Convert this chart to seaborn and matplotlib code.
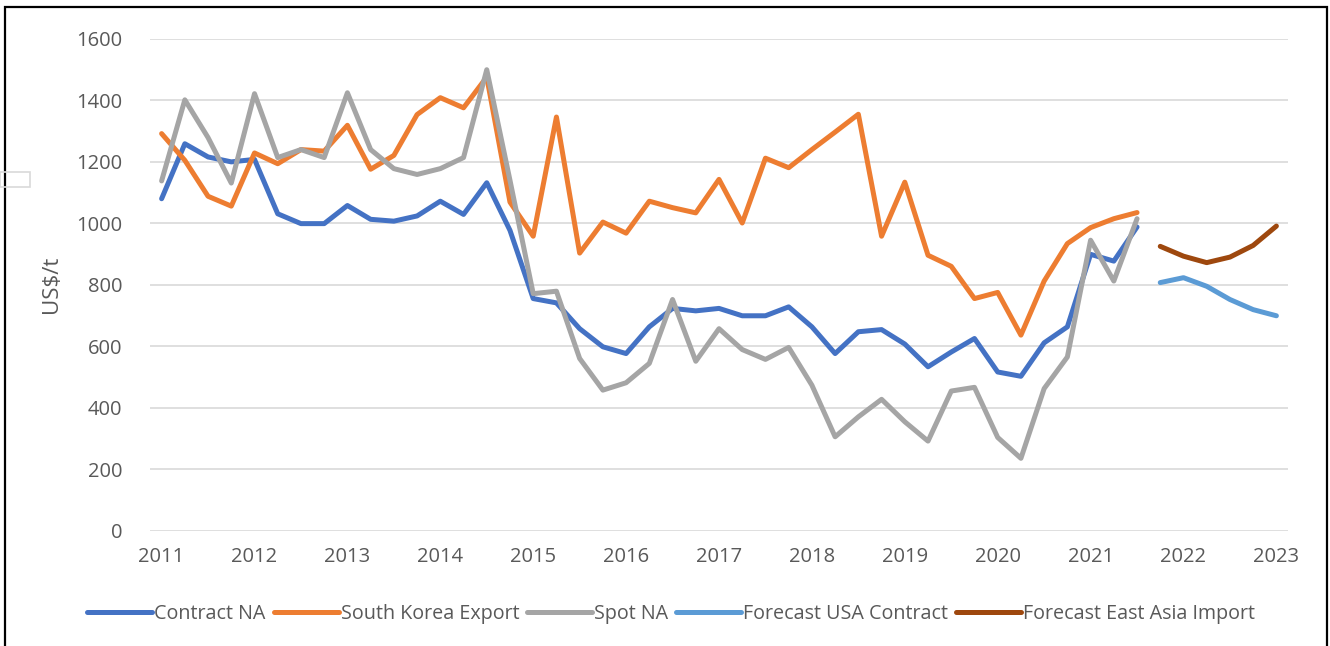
import numpy as np
import pandas as pd
import matplotlib.pyplot as plt
import seaborn as sns
from matplotlib.patches import Rectangle

# ==========================================
# DATA (quarterly, US$/t)
# ==========================================
hist_quarters = [2011 + q * 0.25 for q in range(43)]       # 2011 Q1 .. 2021 Q3
fcst_quarters = [2021.75 + q * 0.25 for q in range(6)]     # 2021 Q4 .. 2023 Q1

contract_na = [1080, 1259, 1216, 1200, 1208, 1031, 999, 999, 1058, 1013,
               1007, 1024, 1072, 1029, 1132, 977, 755, 741, 657, 598,
               576, 663, 723, 715, 723, 699, 699, 728, 663, 576,
               647, 654, 607, 533, 581, 625, 516, 502, 611, 663,
               899, 877, 988]

south_korea_export = [1292, 1205, 1088, 1056, 1229, 1194, 1240, 1235, 1319, 1176,
                      1221, 1354, 1409, 1376, 1476, 1069, 958, 1346, 903, 1004,
                      968, 1072, 1051, 1034, 1143, 1001, 1212, 1181, 1240, 1297,
                      1355, 958, 1134, 896, 860, 755, 775, 636, 812, 934,
                      986, 1015, 1035]

spot_na = [1138, 1402, 1279, 1131, 1422, 1214, 1240, 1214, 1425, 1240,
           1178, 1159, 1178, 1214, 1500, 1140, 771, 779, 560, 457,
           481, 544, 752, 551, 657, 589, 557, 596, 473, 305,
           370, 427, 354, 291, 454, 466, 303, 235, 462, 565,
           945, 812, 1015]

forecast_usa_contract = [807, 823, 795, 752, 719, 699]
forecast_east_asia_import = [925, 893, 872, 890, 928, 991]

series_names = ['Contract NA', 'South Korea Export', 'Spot NA',
                'Forecast USA Contract', 'Forecast East Asia Import']
series_colors = ['#4472C4', '#ED7D31', '#A5A5A5', '#5B9BD5', '#9E480E']
year_ticks = list(range(2011, 2024))

# Build a long table for seaborn
frames = []
for name, xs, ys in [
    (series_names[0], hist_quarters, contract_na),
    (series_names[1], hist_quarters, south_korea_export),
    (series_names[2], hist_quarters, spot_na),
    (series_names[3], fcst_quarters, forecast_usa_contract),
    (series_names[4], fcst_quarters, forecast_east_asia_import),
]:
    frames.append(pd.DataFrame({'Quarter': xs, 'Price': ys, 'Series': name}))
df = pd.concat(frames, ignore_index=True)

# ==========================================
# PLOT
# ==========================================
sns.set_style('white')
plt.rcParams['font.family'] = ['Open Sans', 'DejaVu Sans']

fig = plt.figure(figsize=(13.3, 6.46), dpi=100)
ax = fig.add_axes([150 / 1330, 1 - 530.5 / 646, 1138 / 1330, 491.5 / 646])

sns.lineplot(data=df, x='Quarter', y='Price', hue='Series', hue_order=series_names,
             palette=dict(zip(series_names, series_colors)), linewidth=3.6,
             sort=False, estimator=None, ax=ax, zorder=3)

ax.set_xlim(2011 - 0.125, 2023 + 0.125)
ax.set_ylim(0, 1600)
ax.set_yticks(range(0, 1601, 200))
ax.set_xticks(year_ticks)
ax.set_xticklabels([str(y) for y in year_ticks])
ax.grid(axis='y', color='#D9D9D9', linewidth=1.2, zorder=0)
ax.grid(axis='x', visible=False)
for side in ['top', 'right', 'left', 'bottom']:
    ax.spines[side].set_visible(False)
ax.tick_params(axis='both', length=0, labelsize=14.5, colors='#595959')
ax.tick_params(axis='y', pad=20)
ax.tick_params(axis='x', pad=12)
ax.set_xlabel('')
ax.set_ylabel('US$/t', fontsize=16, color='#595959', labelpad=10)

handles, labels = ax.get_legend_handles_labels()
ax.legend(handles, labels, loc='center', bbox_to_anchor=(0.458, -0.17), ncol=5,
          frameon=False, fontsize=14.2, handlelength=3.3, handletextpad=0.1,
          columnspacing=0.4, labelcolor='#595959')

# Outer frame of the chart area
fig.patches.append(Rectangle((5 / 1330, -0.02), 1322 / 1330, 1.02 - 7 / 646,
                             transform=fig.transFigure, fill=False,
                             edgecolor='black', linewidth=1.6))
fig.patches.append(Rectangle((0, 1 - 187 / 646), 30 / 1330, 15 / 646,
                             transform=fig.transFigure, fill=False,
                             edgecolor='#D9D9D9', linewidth=1.2))

fig.savefig('out.png', dpi=100)
